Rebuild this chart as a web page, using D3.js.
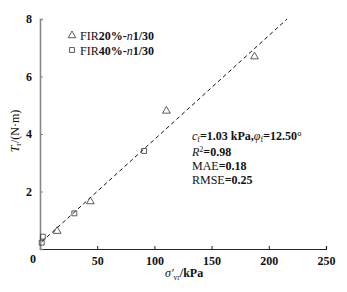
<!DOCTYPE html>
<html>
<head>
<meta charset="utf-8">
<script src="https://cdn.jsdelivr.net/npm/d3@7"></script>
<style>
  body { margin: 0; background: #fff; }
  text { font-family: "Liberation Serif", "DejaVu Serif", serif; fill: #111; }
</style>
</head>
<body>
<svg id="chart" width="347" height="292"></svg>
<script>
// FIR20%-n1/30 (triangles)
var triX = [15, 44, 110.5, 187.5];
var triY = [0.65, 1.68, 4.83, 6.72];
// FIR40%-n1/30 (squares)
var sqX = [1.5, 2.5, 30, 91];
var sqY = [0.22, 0.43, 1.24, 3.41];
// fitted line end points
var fitX = [1.5, 216];
var fitY = [0.25, 8];

var xTicks = [0, 50, 100, 150, 200, 250];
var yTicks = [2, 4, 6, 8];

var svg = d3.select("#chart");
var x = d3.scaleLinear().domain([0, 250]).range([40, 326]);
var y = d3.scaleLinear().domain([0, 8]).range([249, 19]);

// x axis
var xAxis = svg.append("g")
  .attr("transform", "translate(0," + y(0) + ")")
  .call(d3.axisBottom(x).tickValues(xTicks).tickSize(-3).tickPadding(7).tickFormat(d => d === 0 ? "" : d));
xAxis.select(".domain").attr("stroke", "#222").attr("stroke-width", 1.2);
xAxis.selectAll(".tick line").attr("stroke", "#222");
xAxis.selectAll("text").attr("font-size", 12).attr("font-weight", "bold").style("font-family", "Liberation Serif").attr("fill", "#111");

// y axis
var yAxis = svg.append("g")
  .attr("transform", "translate(" + x(0) + ",0)")
  .call(d3.axisLeft(y).tickValues(yTicks).tickSize(-3).tickPadding(8));
yAxis.select(".domain").attr("stroke", "#888").attr("stroke-width", 1.6);
yAxis.selectAll(".tick line").attr("stroke", "#888");
yAxis.selectAll("text").attr("font-size", 12).attr("font-weight", "bold").style("font-family", "Liberation Serif").attr("fill", "#111");

// shared origin label
svg.append("text").attr("x", 33).attr("y", 263).attr("text-anchor", "middle")
  .attr("font-size", 12).attr("font-weight", "bold").text("0");

// fitted dashed line
svg.append("line")
  .attr("x1", x(fitX[0])).attr("y1", y(fitY[0]))
  .attr("x2", x(fitX[1])).attr("y2", y(fitY[1]))
  .attr("stroke", "#111").attr("stroke-width", 1).attr("stroke-dasharray", "4,3");

var tri = d3.symbol().type(d3.symbolTriangle).size(26);
var sq = d3.symbol().type(d3.symbolSquare).size(24);

svg.append("g").selectAll("path")
  .data(triX.map((d, i) => [d, triY[i]]))
  .enter().append("path")
  .attr("d", tri)
  .attr("transform", d => "translate(" + x(d[0]) + "," + (y(d[1]) + 0.8) + ")")
  .attr("fill", "none").attr("stroke", "#333").attr("stroke-width", 0.8);

svg.append("g").selectAll("path")
  .data(sqX.map((d, i) => [d, sqY[i]]))
  .enter().append("path")
  .attr("d", sq)
  .attr("transform", d => "translate(" + x(d[0]) + "," + y(d[1]) + ")")
  .attr("fill", "none").attr("stroke", "#333").attr("stroke-width", 0.8);

// legend
var legend = svg.append("g");
legend.append("path").attr("d", tri).attr("transform", "translate(72,35.5)")
  .attr("fill", "none").attr("stroke", "#333").attr("stroke-width", 0.8);
legend.append("path").attr("d", sq).attr("transform", "translate(72,50)")
  .attr("fill", "none").attr("stroke", "#333").attr("stroke-width", 0.8);

function legendText(yy, pct) {
  var t = legend.append("text").attr("x", 80).attr("y", yy).attr("font-size", 12);
  t.append("tspan").text("FIR");
  t.append("tspan").attr("font-weight", "bold").text(pct + "%-");
  t.append("tspan").attr("font-style", "italic").text("n");
  t.append("tspan").attr("font-weight", "bold").text("1/30");
}
legendText(39.5, "20");
legendText(54.5, "40");

// statistics
var st = svg.append("g").attr("font-size", 12);
var l1 = st.append("text").attr("x", 192).attr("y", 140);
l1.append("tspan").attr("font-style", "italic").text("c");
l1.append("tspan").attr("font-size", 8).attr("dy", 2).text("f");
l1.append("tspan").attr("font-weight", "bold").attr("dy", -2).text("=1.03 kPa,");
l1.append("tspan").attr("font-style", "italic").text("φ");
l1.append("tspan").attr("font-size", 8).attr("dy", 2).text("f");
l1.append("tspan").attr("font-weight", "bold").attr("dy", -2).text("=12.50°");

var l2 = st.append("text").attr("x", 192).attr("y", 156);
l2.append("tspan").attr("font-style", "italic").text("R");
l2.append("tspan").attr("font-size", 8).attr("dy", -4).text("2");
l2.append("tspan").attr("font-weight", "bold").attr("dy", 4).text("=0.98");

var l3 = st.append("text").attr("x", 192).attr("y", 169.5);
l3.append("tspan").text("MAE");
l3.append("tspan").attr("font-weight", "bold").text("=0.18");

var l4 = st.append("text").attr("x", 192).attr("y", 183.5);
l4.append("tspan").text("RMSE");
l4.append("tspan").attr("font-weight", "bold").text("=0.25");

// x axis title
var xt = svg.append("text").attr("x", 165).attr("y", 277).attr("font-size", 12);
xt.append("tspan").attr("font-style", "italic").text("σ′");
xt.append("tspan").attr("font-size", 7.5).attr("dy", 3).text("vr");
xt.append("tspan").attr("font-weight", "bold").attr("dy", -3).text("/kPa");

// y axis title
var yt = svg.append("text").attr("transform", "translate(19,131) rotate(-90)")
  .attr("text-anchor", "middle").attr("font-size", 12);
yt.append("tspan").attr("font-style", "italic").text("T");
yt.append("tspan").attr("font-size", 8).attr("dy", 2).text("r");
yt.append("tspan").attr("dy", -2).text("/(N·m)");
</script>
</body>
</html>
